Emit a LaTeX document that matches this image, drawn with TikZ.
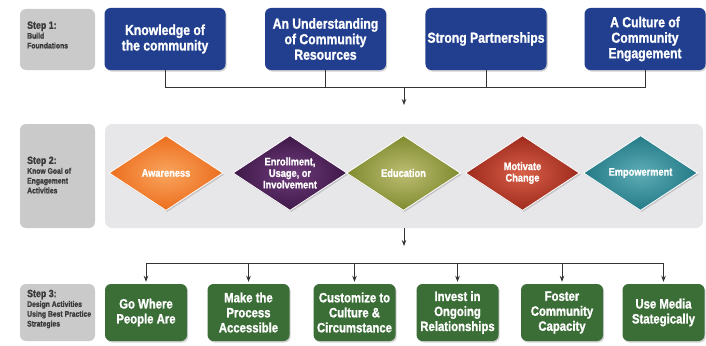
\documentclass[tikz,border=0pt]{standalone}
\usepackage{fontspec}
\setmainfont{Liberation Sans}
\newfontfamily\cond[FakeStretch=0.84,BoldFeatures={FakeBold=1.2}]{Liberation Sans}
\usetikzlibrary{shapes.geometric,shadows,arrows.meta}
\definecolor{navy}{HTML}{213F8E}
\definecolor{dgreen}{HTML}{3B6D36}
\definecolor{lbl}{HTML}{CACACA}
\definecolor{panelc}{HTML}{E7E7EA}
\definecolor{lbltext}{HTML}{3A3A3A}
\definecolor{linec}{HTML}{333333}
\definecolor{orgO}{HTML}{EC6E1E}\definecolor{orgI}{HTML}{F9A55E}
\definecolor{purO}{HTML}{3F1848}\definecolor{purI}{HTML}{6E3C7C}
\definecolor{oliO}{HTML}{7F8B2E}\definecolor{oliI}{HTML}{BDBD73}
\definecolor{redO}{HTML}{9E2A1D}\definecolor{redI}{HTML}{D86048}
\definecolor{teaO}{HTML}{237A86}\definecolor{teaI}{HTML}{5EADB6}
\tikzset{
  shadowed/.style={drop shadow={opacity=0.35,shadow xshift=1.2pt,shadow yshift=-1.5pt}},
  bluebox/.style={shadowed,rounded corners=6pt,fill=navy,text=white,minimum width=121pt,minimum height=62pt,inner sep=2pt,align=center,font=\cond\bfseries\fontsize{14.5}{15.5}\selectfont},
  greenbox/.style={shadowed,rounded corners=6pt,fill=dgreen,text=white,minimum width=82pt,minimum height=57pt,inner sep=1pt,align=center,font=\cond\bfseries\fontsize{13.5}{15}\selectfont},
  lblbox/.style={rounded corners=6pt,fill=lbl,minimum width=75pt},
  lbltxt/.style={anchor=west,align=left,text=lbltext,inner sep=0pt,font=\cond\bfseries\fontsize{8.1}{9.8}\selectfont},
  gem/.style={diamond,shadowed,draw=white,line width=0.8pt,minimum width=114pt,minimum height=75pt,inner sep=0pt,aspect=1.5,align=center,text=white,font=\cond\bfseries\fontsize{11}{11.5}\selectfont},
  conn/.style={draw=linec,line width=0.8pt},
  arr/.style={conn,-{Stealth[length=6pt,width=4.5pt]}}
}
\begin{document}
\begin{tikzpicture}[x=1pt,y=-1pt]
\useasboundingbox[fill=white] (0,0) rectangle (706,345);
% Step 1
\node[lblbox,minimum height=61pt] (l1) at (57.5,39.5) {};
\node[lbltxt] (t1) at (27,35) {{\fontsize{10.5}{12}\selectfont Step 1:}\\Build\\Foundations};
\node[bluebox] (b1) at (165,39) {Knowledge of\\the community};
\node[bluebox] (b2) at (325.5,39) {An Understanding\\of Community\\Resources};
\node[bluebox] (b3) at (486,39) {Strong Partnerships};
\node[bluebox] (b4) at (645,39) {A Culture of\\Community\\Engagement};
\coordinate (j1) at (404,87);
\coordinate (a1) at (404,105);
\draw[conn] (b1.south) |- (b4.south |- j1) -- (b4.south);
\draw[conn] (b2.south) -- (b2.south |- j1);
\draw[conn] (b3.south) -- (b3.south |- j1);
\draw[arr] (j1) -- (a1);
% Step 2
\node[lblbox,minimum height=104pt] (l2) at (57.5,176) {};
\node[lbltxt] (t2) at (27,175) {{\fontsize{10.5}{12}\selectfont Step 2:}\\Know Goal of\\Engagement\\Activities};
\node[rounded corners=7pt,fill=panelc,minimum width=598pt,minimum height=104pt] (panel) at (404,176) {};
\node[gem,inner color=orgI,outer color=orgO] (d1) at (166,173) {Awareness};
\node[gem,inner color=purI,outer color=purO] (d2) at (290,173) {Enrollment,\\Usage, or\\Involvement};
\node[gem,inner color=oliI,outer color=oliO] (d3) at (403.5,173) {Education};
\node[gem,inner color=redI,outer color=redO] (d4) at (522.5,173) {Motivate\\Change};
\node[gem,inner color=teaI,outer color=teaO] (d5) at (640.5,173) {Empowerment};
\coordinate (a2) at (404,246);
\draw[arr] (panel.south) -- (a2);
% Step 3
\node[lblbox,minimum height=57pt] (l3) at (57.5,312.5) {};
\node[lbltxt] (t3) at (27,309) {{\fontsize{10.5}{12}\selectfont Step 3:}\\Design Activities\\Using Best Practice\\Strategies};
\node[greenbox] (g1) at (146,312.5) {Go Where\\People Are};
\node[greenbox] (g2) at (248.5,312.5) {Make the\\Process\\Accessible};
\node[greenbox] (g3) at (354.5,312.5) {Customize to\\Culture \&\\Circumstance};
\node[greenbox] (g4) at (457.5,312.5) {Invest in\\Ongoing\\Relationships};
\node[greenbox] (g5) at (562,312.5) {Foster\\Community\\Capacity};
\node[greenbox] (g6) at (663.5,312.5) {Use Media\\Stategically};
\coordinate (h) at (0,263);
\draw[conn] (g1.north |- h) -- (g6.north |- h);
\foreach \i in {1,...,6}{
  \draw[arr,shorten >=2pt] (g\i.north |- h) -- (g\i.north);
}
\end{tikzpicture}
\end{document}
